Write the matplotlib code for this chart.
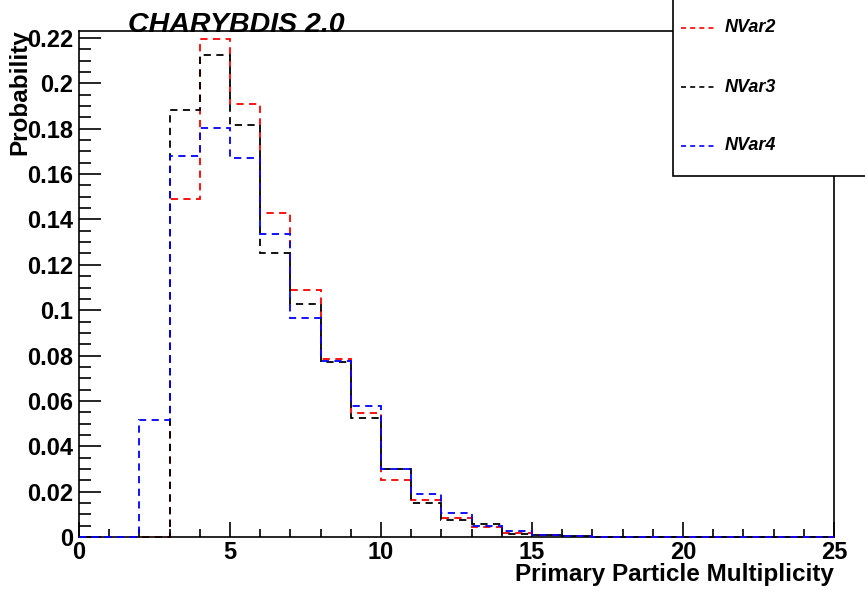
import matplotlib
matplotlib.use('Agg')
import matplotlib.pyplot as plt
from matplotlib.ticker import MultipleLocator, FuncFormatter
from matplotlib.patches import Rectangle
from matplotlib.lines import Line2D
import numpy as np

plt.rcParams['font.family'] = ['Liberation Sans', 'DejaVu Sans']

# bin edges 0..25, one bin per multiplicity value
edges = np.arange(0, 26)

# probabilities (bins 0..24)
nvar2 = [0, 0, 0, 0.149, 0.2196, 0.1908, 0.1427, 0.1088, 0.0786, 0.0545,
         0.0251, 0.0163, 0.0085, 0.0046, 0.0016, 0.0008, 0.0004, 0.0002, 0,
         0, 0, 0, 0, 0, 0]
nvar3 = [0, 0, 0, 0.1883, 0.2125, 0.1815, 0.125, 0.1028, 0.0772, 0.0526,
         0.0298, 0.0149, 0.0075, 0.0057, 0.0013, 0.0008, 0.0004, 0.0002, 0,
         0, 0, 0, 0, 0, 0]
nvar4 = [0, 0, 0.0516, 0.168, 0.1805, 0.167, 0.1334, 0.0964, 0.0775, 0.0579,
         0.0298, 0.0188, 0.0104, 0.0048, 0.0026, 0.0010, 0.0005, 0.0002, 0,
         0, 0, 0, 0, 0, 0]

labels = ['NVar2', 'NVar3', 'NVar4']
colors = ['#ff0000', '#000000', '#0000ff']
series = [nvar2, nvar3, nvar4]

fig = plt.figure(figsize=(8.65, 5.91), dpi=100)
ax = fig.add_axes([79/865, 1-537/591, (834-79)/865, (537-31)/591])

for vals, col in zip(series, colors):
    ax.stairs(vals, edges, color=col, linestyle=(0, (4, 3)), linewidth=1.3,
              zorder=3, clip_on=False)

ax.set_xlim(0, 25)
ax.set_ylim(0, 0.2231)

ax.xaxis.set_major_locator(MultipleLocator(5))
ax.xaxis.set_minor_locator(MultipleLocator(1))
ax.yaxis.set_major_locator(MultipleLocator(0.02))
ax.yaxis.set_minor_locator(MultipleLocator(0.005))
ax.yaxis.set_major_formatter(FuncFormatter(lambda v, p: '%g' % round(v, 4)))

ax.tick_params(axis='both', which='both', direction='in', top=False, right=False,
               labelsize=17, width=1.2)
ax.tick_params(axis='x', which='major', length=11, pad=3)
ax.tick_params(axis='x', which='minor', length=6)
ax.tick_params(axis='y', which='major', length=16, pad=4)
ax.tick_params(axis='y', which='minor', length=8.5)
for lab in ax.get_xticklabels() + ax.get_yticklabels():
    lab.set_fontweight('bold')
for sp in ax.spines.values():
    sp.set_linewidth(1.2)

# titles
fig.text(128/865, 1-32/591, 'CHARYBDIS 2.0', fontsize=20.5, fontweight='bold',
         fontstyle='italic', va='baseline', ha='left')
fig.text(834/865, 1-581/591, 'Primary Particle Multiplicity', fontsize=17.5,
         fontweight='bold', ha='right', va='baseline')
fig.text(8/865, 1-29/591, 'Probability', fontsize=17.5, fontweight='bold',
         rotation=90, ha='left', va='top')

# legend box (runs off the right edge, as in the original)
fig.patches.append(Rectangle((673/865, 1-176/591), 0.3, 0.4, transform=fig.transFigure,
                             facecolor='white', edgecolor='black', linewidth=1.2,
                             zorder=5))
for i, (lab, col) in enumerate(zip(labels, colors)):
    yy = 1 - (28 + 59*i)/591
    fig.lines.append(Line2D([681/865, 717/865], [yy, yy], transform=fig.transFigure,
                            color=col, linestyle=(0, (3, 2.5)), linewidth=1.2, zorder=6))
    fig.text(725/865, yy, lab, fontsize=13, fontweight='bold', fontstyle='italic',
             va='center', ha='left', zorder=6)

fig.savefig('out.png', dpi=100)
